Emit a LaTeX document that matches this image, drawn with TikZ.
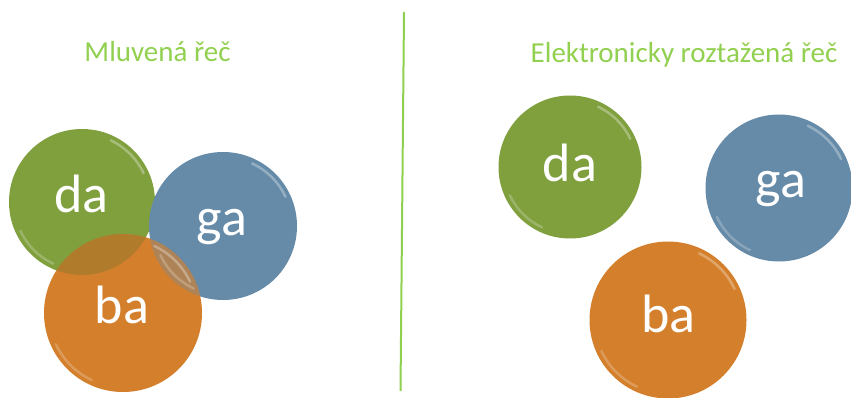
\documentclass[tikz,border=0pt]{standalone}
\usepackage{fontspec}
\setmainfont{Carlito}
\usetikzlibrary{calc}
\definecolor{titlegreen}{HTML}{92D050}
\definecolor{dagreen}{HTML}{80A03E}
\definecolor{gablue}{HTML}{668BA8}
\definecolor{baorange}{HTML}{D47F2C}
\definecolor{linegreen}{HTML}{8FD04E}
\begin{document}
\begin{tikzpicture}[x=1pt,y=-1pt,
  title/.style={text=titlegreen,font=\fontsize{29}{32}\selectfont,inner sep=0pt,anchor=base},
  ball/.style={circle,inner sep=0pt},
  lbl/.style={text=white,font=\fontsize{54}{58}\selectfont,inner sep=0pt,anchor=base},
  shine/.style={white,opacity=0.3,line width=2.5pt,line cap=round}]
\useasboundingbox (0,0) rectangle (851,398);
\fill[white] (0,0) rectangle (851,398);
% divider
\coordinate (ltop) at (404,12);
\coordinate (lbot) at (400.5,391);
\draw[linegreen,line width=2pt] (ltop) -- (lbot);
% titles
\node[title] (t1) at (157.5,62) {Mluvená řeč};
\node[title] (t2) at (684,63) {Elektronicky roztažená řeč};
% left group
\node[ball,fill=dagreen,minimum size=146pt] (lda) at (82,202) {};
\node[ball,fill=gablue,minimum size=148pt] (lga) at (223,226) {};
\node[ball,fill=baorange,minimum size=158pt] (lba) at (123,313) {};
\begin{scope}
  \clip (123,313) circle[radius=79];
  \fill[dagreen!75!black,opacity=0.3] (82,202) circle[radius=73];
  \fill[gablue,opacity=0.35] (223,226) circle[radius=74];
\end{scope}
\node[lbl] (tlda) at (81.5,213) {da};
\node[lbl] (tlga) at (222,235) {ga};
\node[lbl] (tlba) at (122,323) {ba};
% right group
\node[ball,fill=dagreen,minimum size=143pt] (rda) at (570,167) {};
\node[ball,fill=gablue,minimum size=147pt] (rga) at (779,188) {};
\node[ball,fill=baorange,minimum size=157pt] (rba) at (668,320) {};
\node[lbl] (trda) at (570,182) {da};
\node[lbl] (trga) at (781,197) {ga};
\node[lbl] (trba) at (668.5,332) {ba};
% shine arcs
\foreach \c/\r in {lda/73,lga/74,lba/79,rda/71.5,rga/73.5,rba/78.5}{
  \draw[shine] ($(\c)+(-25:\r-5)$) arc[start angle=-25,end angle=-65,radius=\r-5];
  \draw[shine,opacity=0.22] ($(\c)+(155:\r-5)$) arc[start angle=155,end angle=115,radius=\r-5];
}
\end{tikzpicture}
\end{document}
